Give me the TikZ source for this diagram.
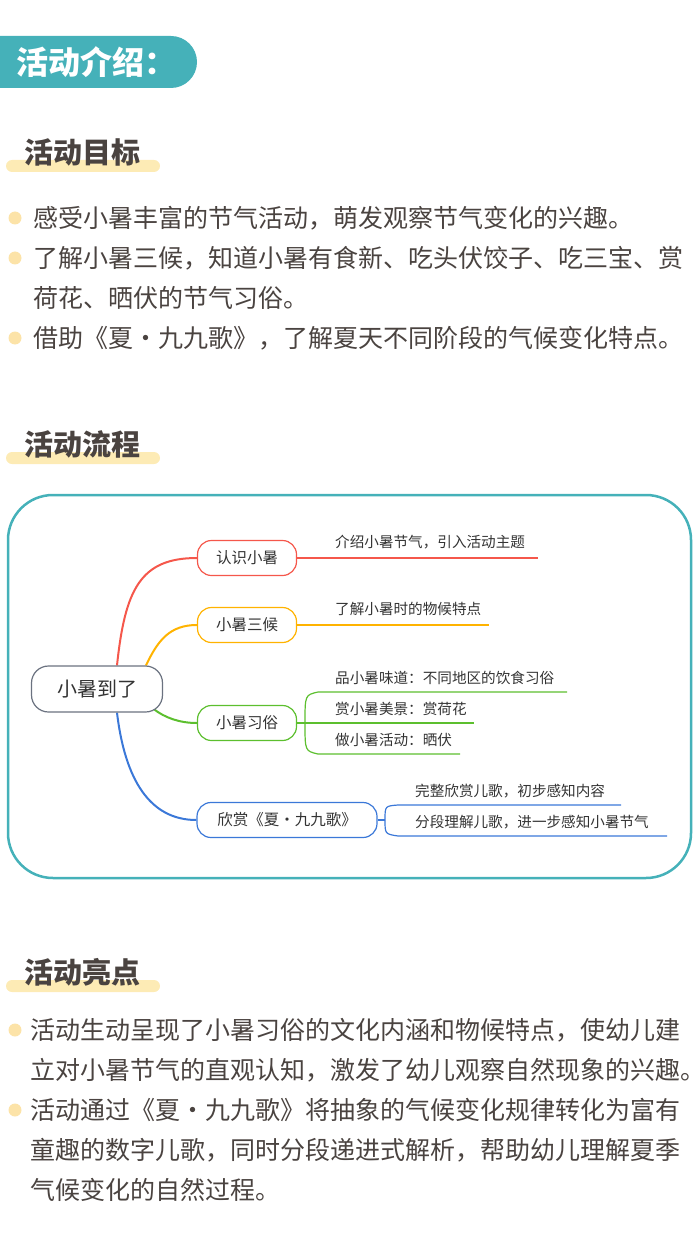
\documentclass[tikz,border=0pt]{standalone}
\usepackage{fontspec}
\setmainfont{Noto Sans CJK SC}
\usetikzlibrary{positioning,backgrounds}
\definecolor{teal1}{HTML}{45B1B9}
\definecolor{ink}{HTML}{4A4340}
\definecolor{hilite}{HTML}{FDEBB5}
\definecolor{dot}{HTML}{FCE3A8}
\definecolor{mred}{HTML}{F5574B}
\definecolor{morange}{HTML}{FFB300}
\definecolor{mgreen}{HTML}{5CBF2E}
\definecolor{mblue}{HTML}{3B78D8}
\definecolor{mgray}{HTML}{6B7280}

\begin{document}
\begin{tikzpicture}[
  x=1pt, y=-1pt,
  heading/.style={anchor=west, text=ink, font=\fontsize{29}{29}\selectfont\bfseries, inner sep=0pt},
  body/.style={anchor=west, text=ink, font=\fontsize{25}{40}\selectfont, inner sep=0pt},
  bullet/.style={circle, fill=dot, minimum size=13pt, inner sep=0pt},
  root/.style={rectangle, rounded corners=17pt, draw=mgray, line width=1.2pt, fill=white, minimum width=131pt, minimum height=46pt, font=\fontsize{20}{20}\selectfont, text=black!80},
  branch/.style={rectangle, rounded corners=14pt, draw=#1, line width=1.2pt, fill=white, minimum height=35pt, minimum width=99pt, font=\fontsize{15.5}{15.5}\selectfont, text=black!80},
  leaf/.style={anchor=south west, font=\fontsize{14.6}{14.6}\selectfont, text=black!80, inner sep=2pt},
  link/.style={line width=2pt, #1}
]
\useasboundingbox (0,0) rectangle (700,1246);

% --- header ---
\fill[teal1] (0,36) -- (171,36) arc[start angle=-90, end angle=90, radius=26] -- (0,88) -- cycle;
\node[anchor=west, text=white, font=\fontsize{32}{32}\selectfont\bfseries, inner sep=0pt] (title) at (16,62) {活动介绍：};

% --- goals ---
\fill[hilite, rounded corners=6pt] (6,160) rectangle (160,172);
\node[heading] (goalhead) at (24,152) {活动目标};
\node[bullet] (b1) at (15,218) {};
\node[body] (g1) at (33,218) {感受小暑丰富的节气活动，萌发观察节气变化的兴趣。};
\node[bullet] (b2) at (15,258) {};
\node[body] (g2) at (33,258) {了解小暑三候，知道小暑有食新、吃头伏饺子、吃三宝、赏};
\node[body] (g2b) at (33,298) {荷花、晒伏的节气习俗。};
\node[bullet] (b3) at (15,338) {};
\node[body] (g3) at (33,338) {借助《夏·九九歌》，了解夏天不同阶段的气候变化特点。};

% --- flow ---
\fill[hilite, rounded corners=6pt] (6,452) rectangle (160,464);
\node[heading] (flowhead) at (24,444) {活动流程};
\draw[teal1, line width=2.5pt, rounded corners=45pt] (8,495) rectangle (691,878);

\node[root] (r) at (97,689) {小暑到了};
\node[branch=mred] (k1) at (247,558) {认识小暑};
\node[branch=morange] (k2) at (247,625) {小暑三候};
\node[branch=mgreen] (k3) at (247,723) {小暑习俗};
\node[branch=mblue, minimum width=180pt] (k4) at (287,820) {欣赏《夏·九九歌》};

\begin{scope}[on background layer]
\draw[link=mred] (r.north) ++(20,0) coordinate (s1) .. controls (125,590) and (140,558) .. (k1.west);
\draw[link=morange] (r.north) ++(49,0) coordinate (s2) .. controls (158,640) and (170,625) .. (k2.west);
\draw[link=mgreen] (r.south east) ++(-10,-4) coordinate (s3) .. controls (165,718) and (180,723) .. (k3.west);
\draw[link=mblue] (r.south) ++(20,0) coordinate (s4) .. controls (125,780) and (150,820) .. (k4.west);
\end{scope}

% leaves
\coordinate (e1) at (538,558);
\draw[mred, line width=1.2pt] (k1.east) -- (e1);
\node[leaf] (t1) at (333,551) {介绍小暑节气，引入活动主题};
\coordinate (e2) at (489,625);
\draw[morange, line width=1.2pt] (k2.east) -- (e2);
\node[leaf] (t2) at (333,618) {了解小暑时的物候特点};

\coordinate (f3) at (305,723);
\draw[mgreen, line width=1.2pt] (k3.east) -- (f3);
\coordinate (e31) at (567,692);
\coordinate (e32) at (474,723);
\coordinate (e33) at (460,754);
\draw[mgreen, line width=1.2pt] (f3) .. controls (305,695) .. (318,692) -- (e31);
\draw[mgreen, line width=1.2pt] (f3) -- (e32);
\draw[mgreen, line width=1.2pt] (f3) .. controls (305,751) .. (318,754) -- (e33);
\node[leaf] (t31) at (333,687) {品小暑味道：不同地区的饮食习俗};
\node[leaf] (t32) at (333,718) {赏小暑美景：赏荷花};
\node[leaf] (t33) at (333,749) {做小暑活动：晒伏};

\coordinate (f4) at (385,820);
\draw[mblue, line width=1.2pt] (k4.east) -- (f4);
\coordinate (e41) at (621,805);
\coordinate (e42) at (667,836);
\draw[mblue, line width=1.2pt] (f4) .. controls (385,806) .. (398,805) -- (e41);
\draw[mblue, line width=1.2pt] (f4) .. controls (385,834) .. (398,836) -- (e42);
\node[leaf] (t41) at (413,800) {完整欣赏儿歌，初步感知内容};
\node[leaf] (t42) at (413,831) {分段理解儿歌，进一步感知小暑节气};

% --- highlights ---
\fill[hilite, rounded corners=6pt] (6,980) rectangle (160,992);
\node[heading] (hlhead) at (24,972) {活动亮点};
\node[bullet] (b4) at (15,1030) {};
\node[body] (h1) at (30,1030) {活动生动呈现了小暑习俗的文化内涵和物候特点，使幼儿建};
\node[body] (h1b) at (30,1070) {立对小暑节气的直观认知，激发了幼儿观察自然现象的兴趣。};
\node[bullet] (b5) at (15,1110) {};
\node[body] (h2) at (30,1110) {活动通过《夏·九九歌》将抽象的气候变化规律转化为富有};
\node[body] (h2b) at (30,1150) {童趣的数字儿歌，同时分段递进式解析，帮助幼儿理解夏季};
\node[body] (h2c) at (30,1190) {气候变化的自然过程。};
\end{tikzpicture}
\end{document}
